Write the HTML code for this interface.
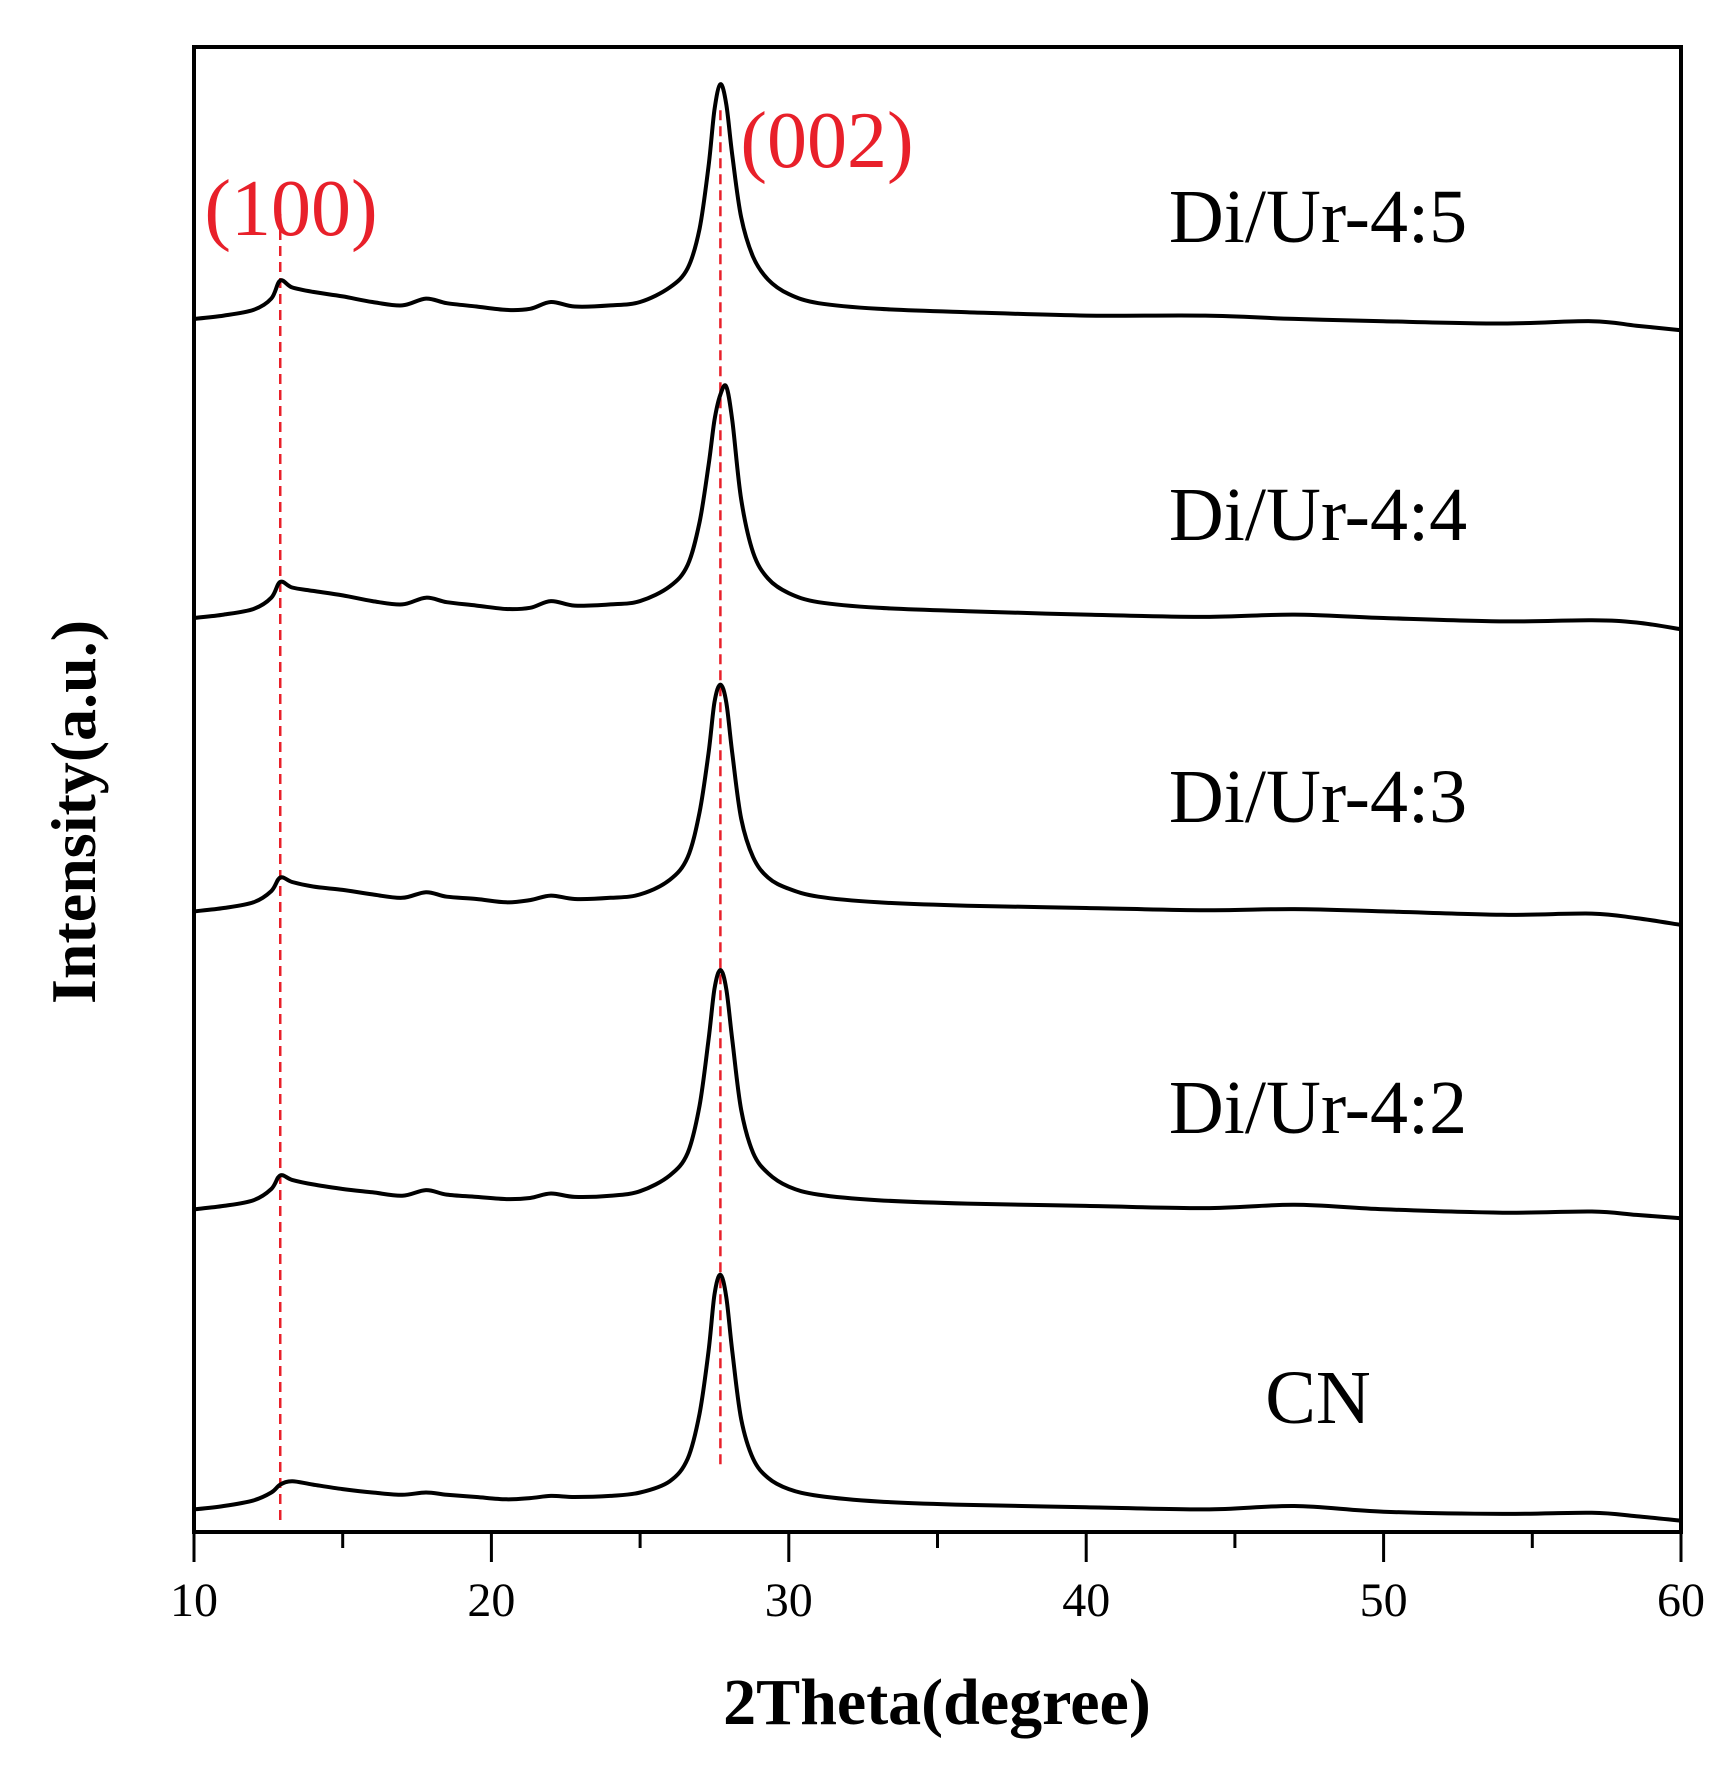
<!DOCTYPE html>
<html><head><meta charset="utf-8"><style>
body{margin:0;background:#fff;}
svg{display:block;}
text{font-family:"Liberation Serif",serif;}
</style></head><body>
<svg id="chart" width="1725" height="1773" viewBox="0 0 1725 1773">
</svg>
<script>
const thetas=[10,11,12,12.6,12.9,13.3,14,15,16,17,17.8,18.5,19.5,20.5,21.3,22,22.8,24,25,26,26.6,27.0,27.3,27.5,27.7,27.9,28.1,28.4,28.8,29.3,30,31,33,36,40,44,47,50,54,57,58.5,60];
const seriesNames=["CN","Di/Ur-4:2","Di/Ur-4:3","Di/Ur-4:4","Di/Ur-4:5"];
const seriesOffsets=[20,286,550,810,1075];
const profileCN=[0,3,8,15,22,25,22,18,15,13,15,13,11,9,10,12,11,12,15,25,45,85,140,190,208,188,140,80,45,28,18,12,7,4,2,0,3,-2,-4,-3,-6,-10];
const profile42=[0,3,8,18,30,26,22,18,15,12,17,13,11,9,10,14,11,12,16,30,50,92,150,195,212,195,150,88,50,32,20,13,8,5,3,1,4,0,-3,-2,-5,-8];
const profile43=[0,3,8,18,30,26,22,19,15,12,17,13,11,8,10,14,11,12,15,28,48,88,140,185,201,185,140,82,48,30,20,13,8,5,3,1,2,0,-3,-2,-6,-12];
const profile44=[0,3,8,18,32,27,24,20,15,12,18,14,11,8,9,15,11,12,15,28,47,85,135,175,198,205,175,105,58,35,22,14,9,6,3,1,3,0,-3,-2,-4,-10];
const profile45=[0,3,8,18,34,28,24,20,15,12,18,14,11,8,9,15,11,12,15,28,45,80,135,185,208,190,145,90,55,35,22,14,9,6,3,3,0,-2,-4,-2,-6,-10];
const profiles=[profileCN,profile42,profile43,profile44,profile45];
const xTicks=[10,20,30,40,50,60];
const xMinor=[15,25,35,45,55];
const peakPositions=[12.9,27.7];
const peakLabels=["(100)","(002)"];

const L=194,R=1681,T=47,B=1532;
const xs=v=>L+(v-10)/(60-10)*(R-L);
const ys=v=>B-v/1316*(B-T);
const NS="http://www.w3.org/2000/svg";
const svg=document.getElementById('chart');
function mk(tag,attrs,parent){const e=document.createElementNS(NS,tag);for(const k in attrs)e.setAttribute(k,attrs[k]);(parent||svg).appendChild(e);return e;}

let f=mk('rect',{x:L,y:T,width:R-L,height:B-T,fill:'none',stroke:'#000','stroke-width':4});



xTicks.forEach(t=>{
  const ln=mk('line',{x1:xs(t),x2:xs(t),y1:B,y2:B+30,stroke:'#000','stroke-width':3});
  
  
  const tx=mk('text',{x:xs(t),y:B+84,'text-anchor':'middle','font-size':48});
  tx.textContent=t;
  
  
});
xMinor.forEach(t=>{
  const ln=mk('line',{x1:xs(t),x2:xs(t),y1:B,y2:B+16,stroke:'#000','stroke-width':3});
  
  
});

const dashTop=[ys(1168),ys(1260)], dashBot=[ys(8),ys(58)];
peakPositions.forEach((p,i)=>{
  const ln=mk('line',{x1:xs(p),x2:xs(p),y1:dashTop[i],y2:dashBot[i],stroke:'#e8202a','stroke-width':2.5,'stroke-dasharray':'10,6'});
  
  
});

profiles.forEach((pr,si)=>{
  const pts=thetas.map((t,i)=>[xs(t),ys(seriesOffsets[si]+pr[i])]);
  let d='M'+pts[0][0].toFixed(1)+','+pts[0][1].toFixed(1);
  for(let i=0;i<pts.length-1;i++){
    const p0=pts[Math.max(0,i-1)],p1=pts[i],p2=pts[i+1],p3=pts[Math.min(pts.length-1,i+2)];
    const c1=[p1[0]+(p2[0]-p0[0])/6,p1[1]+(p2[1]-p0[1])/6];
    const c2=[p2[0]-(p3[0]-p1[0])/6,p2[1]-(p3[1]-p1[1])/6];
    d+='C'+c1[0].toFixed(1)+','+c1[1].toFixed(1)+' '+c2[0].toFixed(1)+','+c2[1].toFixed(1)+' '+p2[0].toFixed(1)+','+p2[1].toFixed(1);
  }
  const p=mk('path',{d:d,fill:'none',stroke:'#000','stroke-width':4,'stroke-linejoin':'round'});
  
  
});

const labelY=[1423,1133,822,540,242];
seriesNames.forEach((n,i)=>{
  const tx=mk('text',{x:1318,y:labelY[i],'text-anchor':'middle','font-size':76});
  tx.textContent=n;
  
  
});

const pl1=mk('text',{x:291,y:235,'text-anchor':'middle','font-size':80,fill:'#e8202a'});
pl1.textContent=peakLabels[0];


const pl2=mk('text',{x:827,y:167,'text-anchor':'middle','font-size':80,fill:'#e8202a'});
pl2.textContent=peakLabels[1];



const xt=mk('text',{x:937,y:1724,'text-anchor':'middle','font-size':66,'font-weight':'bold'});
xt.textContent='2Theta(degree)';


const yt=mk('text',{x:0,y:0,'text-anchor':'middle','font-size':64,'font-weight':'bold',transform:'translate(95,812) rotate(-90)'});
yt.textContent='Intensity(a.u.)';


</script>
</body></html>
